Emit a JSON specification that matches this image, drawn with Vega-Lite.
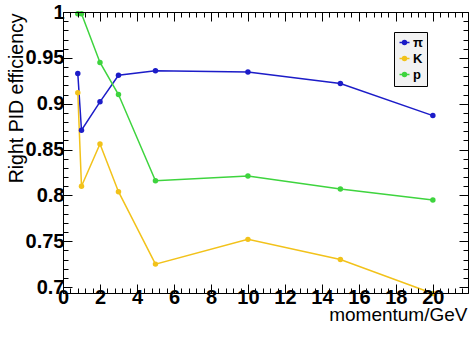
{
  "$schema": "https://vega.github.io/schema/vega-lite/v6.json",
  "width": 405,
  "height": 281,
  "autosize": {"type": "none"},
  "padding": {"left": 63, "top": 12, "right": 3, "bottom": 47},
  "background": "white",
  "data": {"values": [
    {"momentum": 0.8, "eff": 0.933, "particle": "π"},
    {"momentum": 1, "eff": 0.871, "particle": "π"},
    {"momentum": 2, "eff": 0.902, "particle": "π"},
    {"momentum": 3, "eff": 0.931, "particle": "π"},
    {"momentum": 5, "eff": 0.936, "particle": "π"},
    {"momentum": 10, "eff": 0.9345, "particle": "π"},
    {"momentum": 15, "eff": 0.922, "particle": "π"},
    {"momentum": 20, "eff": 0.887, "particle": "π"},
    {"momentum": 0.8, "eff": 0.912, "particle": "K"},
    {"momentum": 1, "eff": 0.810, "particle": "K"},
    {"momentum": 2, "eff": 0.856, "particle": "K"},
    {"momentum": 3, "eff": 0.804, "particle": "K"},
    {"momentum": 5, "eff": 0.725, "particle": "K"},
    {"momentum": 10, "eff": 0.752, "particle": "K"},
    {"momentum": 15, "eff": 0.730, "particle": "K"},
    {"momentum": 20, "eff": 0.693, "particle": "K"},
    {"momentum": 0.8, "eff": 0.998, "particle": "p"},
    {"momentum": 1, "eff": 0.998, "particle": "p"},
    {"momentum": 2, "eff": 0.945, "particle": "p"},
    {"momentum": 3, "eff": 0.910, "particle": "p"},
    {"momentum": 5, "eff": 0.816, "particle": "p"},
    {"momentum": 10, "eff": 0.821, "particle": "p"},
    {"momentum": 15, "eff": 0.807, "particle": "p"},
    {"momentum": 20, "eff": 0.795, "particle": "p"}
  ]},
  "encoding": {
    "color": {
      "field": "particle", "type": "nominal",
      "scale": {"domain": ["π", "K", "p"], "range": ["#1c1cc8", "#f2c21a", "#3ed43e"]},
      "legend": {
        "title": null,
        "orient": "none",
        "legendX": 331,
        "legendY": 20,
        "direction": "vertical",
        "fillColor": "#f2f2f2",
        "strokeColor": "black",
        "padding": 4,
        "rowPadding": 2,
        "symbolType": "M-1,0L1,0M-0.4,0A0.4,0.4 0 1,0 0.4,0A0.4,0.4 0 1,0 -0.4,0",
        "symbolSize": 100,
        "symbolStrokeWidth": 1.5,
        "labelFont": "Liberation Sans",
        "labelFontWeight": "bold",
        "labelFontSize": 13,
        "labelColor": "black",
        "labelOffset": 2,
        "labelLimit": 30,
        "encode": {"symbols": {"update": {"fill": {"scale": "color", "field": "value"}}}}
      }
    }
  },
  "layer": [
    {
      "mark": {"type": "line", "strokeWidth": 1.5, "clip": false},
      "encoding": {
        "x": {
          "field": "momentum", "type": "quantitative",
          "scale": {"domain": [0, 21.9], "nice": false, "zero": false},
          "axis": {
            "orient": "bottom",
            "zindex": 1,
            "title": "momentum/GeV",
            "titleAnchor": "end",
            "titleAlign": "right",
            "titleBaseline": "alphabetic",
            "titleFontSize": 19,
            "titleX": 404,
            "titleY": 27,
            "values": [0,0.4,0.8,1.2,1.6,2,2.4,2.8,3.2,3.6,4,4.4,4.8,5.2,5.6,6,6.4,6.8,7.2,7.6,8,8.4,8.8,9.2,9.6,10,10.4,10.8,11.2,11.6,12,12.4,12.8,13.2,13.6,14,14.4,14.8,15.2,15.6,16,16.4,16.8,17.2,17.6,18,18.4,18.8,19.2,19.6,20,20.4,20.8,21.2,21.6],
            "labelExpr": "abs(datum.value/2-round(datum.value/2))<0.001 ? toString(round(datum.value)) : ''",
            "labelOverlap": false,
            "labelFlush": false,
            "labelPadding": 3,
            "tickSize": {"condition": {"test": "abs(datum.value/2-round(datum.value/2))<0.001", "value": -9}, "value": -5}
          }
        },
        "y": {
          "field": "eff", "type": "quantitative",
          "scale": {"domain": [0.6935, 1.0], "nice": false, "zero": false},
          "axis": {
            "orient": "left",
            "zindex": 1,
            "title": "Right PID efficiency",
            "titleAngle": -90,
            "titleAlign": "right",
            "titleBaseline": "alphabetic",
            "titleX": -41,
            "titleY": 1,
            "values": [0.7,0.71,0.72,0.73,0.74,0.75,0.76,0.77,0.78,0.79,0.8,0.81,0.82,0.83,0.84,0.85,0.86,0.87,0.88,0.89,0.9,0.91,0.92,0.93,0.94,0.95,0.96,0.97,0.98,0.99,1.0],
            "labelExpr": "abs(datum.value*20-round(datum.value*20))<0.001 ? toString(round(datum.value*100)/100) : ''",
            "labelOverlap": false,
            "labelFlush": false,
            "labelPadding": 8,
            "tickSize": {"condition": {"test": "abs(datum.value*20-round(datum.value*20))<0.001", "value": -9}, "value": -5}
          }
        }
      }
    },
    {
      "mark": {"type": "point", "filled": true, "size": 30, "opacity": 1, "clip": false},
      "encoding": {
        "x": {
          "field": "momentum", "type": "quantitative",
          "axis": {
            "orient": "top", "title": null, "labels": false, "zindex": 1,
            "values": [0,0.4,0.8,1.2,1.6,2,2.4,2.8,3.2,3.6,4,4.4,4.8,5.2,5.6,6,6.4,6.8,7.2,7.6,8,8.4,8.8,9.2,9.6,10,10.4,10.8,11.2,11.6,12,12.4,12.8,13.2,13.6,14,14.4,14.8,15.2,15.6,16,16.4,16.8,17.2,17.6,18,18.4,18.8,19.2,19.6,20,20.4,20.8,21.2,21.6],
            "tickSize": {"condition": {"test": "abs(datum.value/2-round(datum.value/2))<0.001", "value": -9}, "value": -5}
          }
        },
        "y": {
          "field": "eff", "type": "quantitative",
          "axis": {
            "orient": "right", "title": null, "labels": false, "zindex": 1,
            "values": [0.7,0.71,0.72,0.73,0.74,0.75,0.76,0.77,0.78,0.79,0.8,0.81,0.82,0.83,0.84,0.85,0.86,0.87,0.88,0.89,0.9,0.91,0.92,0.93,0.94,0.95,0.96,0.97,0.98,0.99,1.0],
            "tickSize": {"condition": {"test": "abs(datum.value*20-round(datum.value*20))<0.001", "value": -9}, "value": -5}
          }
        }
      }
    }
  ],
  "resolve": {"axis": {"x": "independent", "y": "independent"}},
  "config": {
    "view": {"stroke": "black", "strokeWidth": 1},
    "axis": {
      "grid": false,
      "domainColor": "black",
      "domainWidth": 1,
      "tickColor": "black",
      "tickWidth": 1,
      "labelFont": "Liberation Sans",
      "labelFontWeight": "bold",
      "labelFontSize": 20,
      "labelColor": "black",
      "titleFont": "Liberation Sans",
      "titleFontWeight": "normal",
      "titleFontSize": 19.5,
      "titleColor": "black"
    }
  }
}
